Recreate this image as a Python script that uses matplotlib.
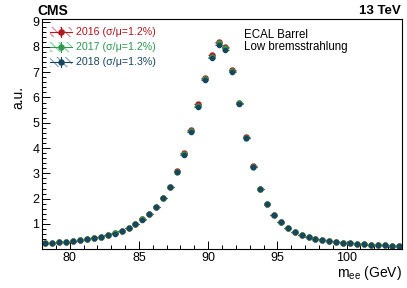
import numpy as np
import matplotlib
matplotlib.use('Agg')
import matplotlib.pyplot as plt
import matplotlib.patches as mpatches
from matplotlib.ticker import MultipleLocator

plt.rcParams['font.family'] = ['Liberation Sans', 'DejaVu Sans']
plt.rcParams['mathtext.fontset'] = 'custom'
plt.rcParams['mathtext.rm'] = 'Liberation Sans'
plt.rcParams['hatch.linewidth'] = 0.8

# bin centres of m_ee (GeV), 0.5 GeV bins
mee = [78.25, 78.75, 79.25, 79.75, 80.25, 80.75, 81.25, 81.75, 82.25, 82.75,
       83.25, 83.75, 84.25, 84.75, 85.25, 85.75, 86.25, 86.75, 87.25, 87.75,
       88.25, 88.75, 89.25, 89.75, 90.25, 90.75, 91.25, 91.75, 92.25, 92.75,
       93.25, 93.75, 94.25, 94.75, 95.25, 95.75, 96.25, 96.75, 97.25, 97.75,
       98.25, 98.75, 99.25, 99.75, 100.25, 100.75, 101.25, 101.75, 102.25, 102.75,
       103.25, 103.75]

y2016 = [0.24, 0.26, 0.28, 0.30, 0.34, 0.37, 0.41, 0.46, 0.50, 0.56,
         0.63, 0.72, 0.84, 1.00, 1.18, 1.40, 1.68, 2.02, 2.48, 3.08,
         3.80, 4.70, 5.74, 6.78, 7.66, 8.20, 8.00, 7.10, 5.80, 4.42,
         3.28, 2.38, 1.79, 1.36, 1.07, 0.84, 0.69, 0.57, 0.48, 0.41,
         0.37, 0.32, 0.29, 0.26, 0.24, 0.21, 0.20, 0.18, 0.17, 0.16,
         0.14, 0.13]

y2017 = [0.24, 0.26, 0.28, 0.30, 0.34, 0.37, 0.41, 0.46, 0.50, 0.56,
         0.63, 0.72, 0.84, 1.00, 1.18, 1.40, 1.68, 2.02, 2.47, 3.06,
         3.77, 4.66, 5.68, 6.73, 7.61, 8.14, 7.94, 7.06, 5.77, 4.40,
         3.27, 2.38, 1.79, 1.36, 1.07, 0.84, 0.69, 0.57, 0.48, 0.41,
         0.37, 0.32, 0.29, 0.26, 0.24, 0.21, 0.20, 0.18, 0.17, 0.16,
         0.14, 0.13]

y2018 = [0.23, 0.25, 0.27, 0.29, 0.33, 0.36, 0.40, 0.45, 0.49, 0.55,
         0.62, 0.71, 0.83, 0.99, 1.17, 1.39, 1.67, 2.01, 2.46, 3.04,
         3.74, 4.62, 5.62, 6.68, 7.56, 8.08, 7.88, 7.02, 5.74, 4.38,
         3.26, 2.37, 1.78, 1.35, 1.06, 0.83, 0.68, 0.56, 0.47, 0.40,
         0.36, 0.31, 0.28, 0.25, 0.23, 0.20, 0.19, 0.17, 0.16, 0.15,
         0.13, 0.12]

labels = ['2016 (σ/μ=1.2%)', '2017 (σ/μ=1.2%)', '2018 (σ/μ=1.3%)']
colors = ['#b0171f', '#2e9a4e', '#17465f']
light = ['#e07f86', '#7fcf97', '#7d9cb5']
sizes = [3.6, 3.6, 3.0]
half_bin = 0.25

fig = plt.figure(figsize=(4.07, 2.88), dpi=100)
ax = fig.add_axes([0.1032, 0.1344, 0.8845, 0.7996])

for ys, c, s in zip([y2016, y2017, y2018], colors, sizes):
    ax.errorbar(mee, ys, xerr=half_bin, yerr=0.03, fmt='o', ms=s,
                color=c, elinewidth=0.8, capsize=0)

ax.set_xlim(78, 104)
ax.set_ylim(0, 9.1)
ax.xaxis.set_major_locator(MultipleLocator(5))
ax.xaxis.set_minor_locator(MultipleLocator(1))
ax.yaxis.set_minor_locator(MultipleLocator(0.2))
ax.set_yticks([1, 2, 3, 4, 5, 6, 7, 8, 9])
ax.tick_params(which='both', direction='in', top=False, right=False,
               labelsize=9, width=0.7, pad=2)
ax.tick_params(which='major', length=6)
ax.tick_params(which='minor', length=3)
for s in ax.spines.values():
    s.set_linewidth(0.8)

ax.set_xlabel(r'm$_\mathregular{ee}$ (GeV)', fontsize=10, loc='right', labelpad=0)
ax.set_ylabel('a.u.', fontsize=10)
ax.yaxis.set_label_coords(-0.045, 0.66)

# legend drawn by hand: hatched box + marker with error bars, coloured text
leg_y = [0.9435, 0.8797, 0.8146]
box_x0, box_w, box_h = 0.022, 0.061, 0.044
for ly, lab, c, lc in zip(leg_y, labels, colors, light):
    ax.add_patch(mpatches.Rectangle((box_x0, ly - box_h / 2), box_w, box_h,
                                    transform=ax.transAxes, fill=False,
                                    edgecolor=lc, linewidth=0,
                                    hatch='\\\\\\\\', clip_on=False))
    xc = box_x0 + box_w / 2
    ax.plot([box_x0, box_x0 + box_w], [ly, ly], color=c, lw=0.8,
            transform=ax.transAxes, clip_on=False)
    ax.plot([xc, xc], [ly - box_h / 2, ly + box_h / 2], color=c, lw=0.8,
            transform=ax.transAxes, clip_on=False)
    ax.plot([xc], [ly], 'o', ms=3.6, color=c, transform=ax.transAxes,
            clip_on=False)
    ax.text(0.094, ly, lab, color=c, fontsize=7.7, va='center', ha='left',
            transform=ax.transAxes)

ax.text(0.56, 0.958, 'ECAL Barrel\nLow bremsstrahlung', transform=ax.transAxes,
        fontsize=8.3, va='top', ha='left', linespacing=1.05)
fig.text(0.093, 0.962, 'CMS', fontsize=10, fontweight='bold', va='center', ha='left')
fig.text(0.985, 0.962, '13 TeV', fontsize=9.5, fontweight='bold', va='center', ha='right')

fig.savefig('out.png', dpi=100)
